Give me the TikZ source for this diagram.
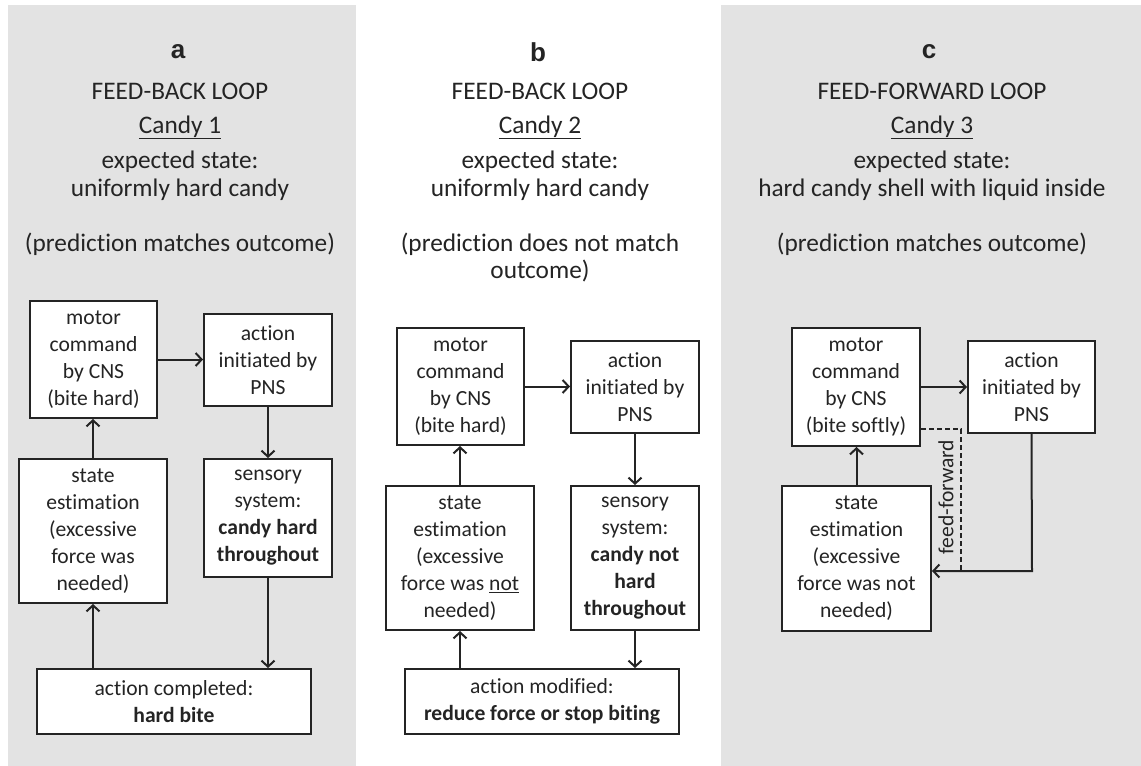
\documentclass[tikz,border=0pt]{standalone}
\usepackage{fontspec}
\setmainfont{Carlito}[Ligatures=NoCommon]
\newfontfamily\labfont{Liberation Sans}
\usetikzlibrary{arrows.meta}
\definecolor{panelgrey}{HTML}{E3E3E3}
\definecolor{ink}{HTML}{242424}
\tikzset{
  box/.style={draw=ink, line width=2pt, fill=white, inner sep=0pt, align=center, font=\fontsize{21.6}{27}\selectfont, text=ink},
  head/.style={font=\fontsize{25.3}{29}\selectfont, text=ink, inner sep=0pt, text height=17pt, text depth=5pt},
  lab/.style={font=\labfont\bfseries\fontsize{26}{30}\selectfont, text=ink, inner sep=0pt},
  conn/.style={draw=ink, line width=2pt, -{Straight Barb[length=6pt,width=13pt]}},
  ffline/.style={draw=ink, line width=1.5pt, dash pattern=on 5pt off 3pt},
  fflabel/.style={font=\fontsize{21.6}{27}\selectfont, text=ink, inner sep=0pt, rotate=90},
}
\begin{document}
\begin{tikzpicture}[x=1pt,y=-1pt]
\useasboundingbox (0,0) rectangle (1141,766);
\fill[white] (0,0) rectangle (1141,766);
\fill[panelgrey] (8,5) rectangle (356,766);
\fill[panelgrey] (721,5) rectangle (1141,766);

% ---------- panel a ----------
\node[lab] (la) at (178,52) {a};
\node[head] (ha1) at (180,93) {FEED-BACK LOOP};
\node[head] (ha2) at (180,127) {\underline{Candy 1}};
\node[head] (ha3) at (180,162) {expected state:};
\node[head] (ha4) at (180,190) {uniformly hard candy};
\node[head] (ha5) at (180,245) {(prediction matches outcome)};

\node[box, minimum width=127pt, minimum height=117pt] (ma) at (93.5,359.5) {motor\\command\\by CNS\\(bite hard)};
\node[box, minimum width=128pt, minimum height=92pt] (aa) at (268,360) {action\\initiated by\\PNS};
\node[box, minimum width=148pt, minimum height=144pt] (sa) at (93,531) {state\\estimation\\(excessive\\force was\\needed)};
\node[box, minimum width=128pt, minimum height=118pt] (ya) at (268,518) {sensory\\system:\\\textbf{candy hard}\\\textbf{throughout}};
\node[box, minimum width=274pt, minimum height=65pt] (ca) at (174,701.5) {action completed:\\\textbf{hard bite}};

\draw[conn] (ma.east) -- (ma.east -| aa.west);
\draw[conn] (aa.south) -- (ya.north);
\draw[conn] (sa.north) -- (sa.north |- ma.south);
\draw[conn] (ya.south) -- (ya.south |- ca.north);
\draw[conn] (sa.south |- ca.north) -- (sa.south);

% ---------- panel b ----------
\node[lab] (lb) at (538,52) {b};
\node[head] (hb1) at (540,93) {FEED-BACK LOOP};
\node[head] (hb2) at (540,127) {\underline{Candy 2}};
\node[head] (hb3) at (540,162) {expected state:};
\node[head] (hb4) at (540,190) {uniformly hard candy};
\node[head] (hb5) at (540,245) {(prediction does not match};
\node[head] (hb6) at (540,272) {outcome)};

\node[box, minimum width=127pt, minimum height=117pt] (mb) at (460.5,386.5) {motor\\command\\by CNS\\(bite hard)};
\node[box, minimum width=128pt, minimum height=92pt] (ab) at (635,387) {action\\initiated by\\PNS};
\node[box, minimum width=148pt, minimum height=144pt] (sb) at (460,558) {state\\estimation\\(excessive\\force was \underline{not}\\needed)};
\node[box, minimum width=128pt, minimum height=144pt] (yb) at (635,558) {sensory\\system:\\\textbf{candy not}\\\textbf{hard}\\\textbf{throughout}};
\node[box, minimum width=274pt, minimum height=65pt] (cb) at (542,701.5) {action modified:\\\textbf{reduce force or stop biting}};

\draw[conn] (mb.east) -- (mb.east -| ab.west);
\draw[conn] (ab.south) -- (yb.north);
\draw[conn] (sb.north) -- (sb.north |- mb.south);
\draw[conn] (yb.south) -- (yb.south |- cb.north);
\draw[conn] (sb.south |- cb.north) -- (sb.south);

% ---------- panel c ----------
\node[lab] (lc) at (929,52) {c};
\node[head] (hc1) at (932,93) {FEED-FORWARD LOOP};
\node[head] (hc2) at (932,127) {\underline{Candy 3}};
\node[head] (hc3) at (932,162) {expected state:};
\node[head] (hc4) at (932,190) {hard candy shell with liquid inside};
\node[head] (hc5) at (932,245) {(prediction matches outcome)};

\node[box, minimum width=128pt, minimum height=118pt] (mc) at (856,387) {motor\\command\\by CNS\\(bite softly)};
\node[box, minimum width=127pt, minimum height=92pt] (ac) at (1031.5,387) {action\\initiated by\\PNS};
\node[box, minimum width=149pt, minimum height=145pt] (sc) at (856.5,558.5) {state\\estimation\\(excessive\\force was not\\needed)};

\coordinate (turn) at (1032,571);
\coordinate (ffc) at (961,429);
\draw[conn] (mc.east) -- (mc.east -| ac.west);
\draw[conn] (sc.north) -- (sc.north |- mc.south);
\draw[ffline] (mc.east |- ffc) -- (ffc) -- (ffc |- turn);
\draw[conn] (ac.south) -- (turn) -- (turn -| sc.east);
\node[fflabel] (ffl) at (946,497) {feed-forward};
\end{tikzpicture}
\end{document}
